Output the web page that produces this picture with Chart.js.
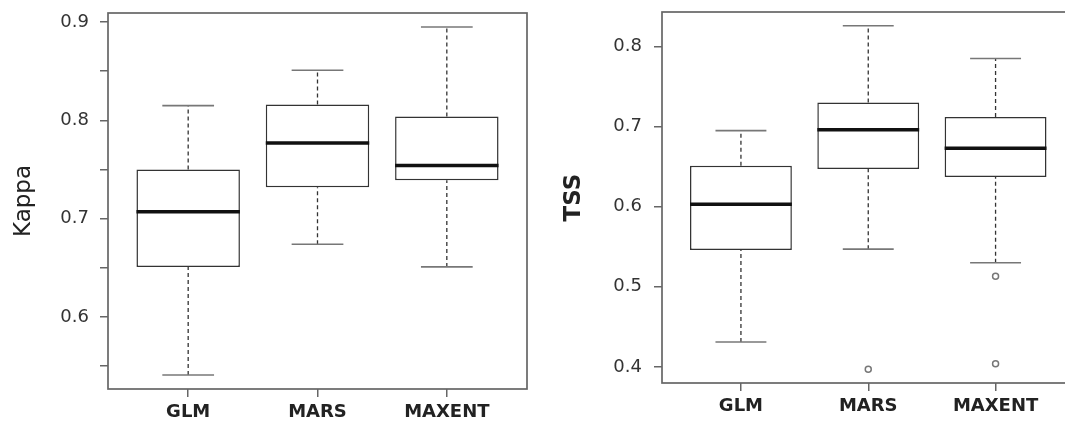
<!DOCTYPE html>
<html lang="en">
<head>
<meta charset="UTF-8">
<title>Kappa and TSS by model</title>
<script src="https://cdn.jsdelivr.net/npm/chart.js"></script>
<style>
    html, body { margin: 0; padding: 0; background: #fff; overflow: hidden; }
    #wrap { position: relative; width: 1065px; height: 426px; overflow: hidden; }
    #kappaChart { position: absolute; left: 0; top: 0; }
    #tssChart { position: absolute; left: 530px; top: 0; }
</style>
</head>
<body>
<div id="wrap">
    <canvas id="kappaChart" width="530" height="426"></canvas>
    <canvas id="tssChart" width="550" height="426"></canvas>
</div>

<script>
const models = ['GLM', 'MARS', 'MAXENT'];

// Kappa box statistics
const kappaLow  = [0.541, 0.674, 0.651];
const kappaQ1   = [0.651, 0.732, 0.739];
const kappaMed  = [0.707, 0.777, 0.754];
const kappaQ3   = [0.750, 0.816, 0.804];
const kappaHigh = [0.815, 0.851, 0.895];
const kappaOut  = [[], [], []];
const kappaTicks = ['0.6', '0.7', '0.8', '0.9'];

// TSS box statistics
const tssLow  = [0.431, 0.547, 0.530];
const tssQ1   = [0.546, 0.647, 0.637];
const tssMed  = [0.603, 0.696, 0.673];
const tssQ3   = [0.651, 0.730, 0.712];
const tssHigh = [0.695, 0.826, 0.785];
const tssOut  = [[], [0.397], [0.513, 0.404]];
const tssTicks = ['0.4', '0.5', '0.6', '0.7', '0.8'];

// R-style axis range: data range padded by 4%
function paddedRange(lo, hi, out) {
    const all = lo.concat(hi, out.flat());
    const mn = Math.min(...all), mx = Math.max(...all);
    const pad = (mx - mn) * 0.04;
    return [mn - pad, mx + pad];
}

function makeBoxChart(id, s) {
    const [ymin, ymax] = paddedRange(s.low, s.high, s.out);

    const boxExtras = {
        id: 'boxExtras',
        beforeDatasetsDraw(chart) {
            const {ctx, scales: {x, y}} = chart;
            ctx.save();
            // dashed whiskers
            ctx.strokeStyle = '#333';
            ctx.lineWidth = 1.3;
            ctx.setLineDash([4, 3]);
            s.med.forEach((m, i) => {
                const xc = x.getPixelForValue(i + 1);
                ctx.beginPath();
                ctx.moveTo(xc, y.getPixelForValue(s.low[i]));
                ctx.lineTo(xc, y.getPixelForValue(s.q1[i]));
                ctx.moveTo(xc, y.getPixelForValue(s.q3[i]));
                ctx.lineTo(xc, y.getPixelForValue(s.high[i]));
                ctx.stroke();
            });
            ctx.setLineDash([]);
            // whisker caps (half the box width)
            ctx.strokeStyle = '#777';
            ctx.lineWidth = 1.6;
            s.med.forEach((m, i) => {
                const x0 = x.getPixelForValue(i + 1 - 0.2);
                const x1 = x.getPixelForValue(i + 1 + 0.2);
                [s.low[i], s.high[i]].forEach(v => {
                    const yy = y.getPixelForValue(v);
                    ctx.beginPath();
                    ctx.moveTo(x0, yy);
                    ctx.lineTo(x1, yy);
                    ctx.stroke();
                });
            });
            ctx.restore();
        },
        afterDatasetsDraw(chart) {
            const {ctx, chartArea, scales: {y}} = chart;
            const bars = chart.getDatasetMeta(0).data;
            ctx.save();
            // medians
            ctx.strokeStyle = '#111';
            ctx.lineWidth = 3.5;
            bars.forEach((bar, i) => {
                const yy = y.getPixelForValue(s.med[i]);
                ctx.beginPath();
                ctx.moveTo(bar.x - bar.width / 2, yy);
                ctx.lineTo(bar.x + bar.width / 2, yy);
                ctx.stroke();
            });
            // plot frame
            ctx.strokeStyle = '#666';
            ctx.lineWidth = 1.7;
            ctx.strokeRect(chartArea.left, chartArea.top,
                chartArea.right - chartArea.left, chartArea.bottom - chartArea.top);
            ctx.restore();
        }
    };

    const outliers = [];
    s.out.forEach((list, i) => list.forEach(v => outliers.push({x: i + 1, y: v})));

    new Chart(document.getElementById(id), {
        type: 'bar',
        data: {
            datasets: [{
                type: 'bar',
                data: models.map((m, i) => ({x: i + 1, y: [s.q1[i], s.q3[i]]})),
                backgroundColor: '#fff',
                borderColor: '#333',
                borderWidth: 1.5,
                borderSkipped: false,
                barPercentage: 0.8,
                categoryPercentage: 1.0
            }, {
                type: 'scatter',
                data: outliers,
                pointRadius: 3,
                pointBorderWidth: 1.5,
                pointBorderColor: '#777',
                pointBackgroundColor: 'rgba(0,0,0,0)'
            }]
        },
        options: {
            responsive: false,
            animation: false,
            events: [],
            layout: { padding: { top: s.padTop, right: s.padRight, left: 0, bottom: 0 } },
            plugins: { legend: { display: false }, tooltip: { enabled: false } },
            scales: {
                x: {
                    type: 'linear',
                    min: 0.5 - 0.12,
                    max: models.length + 0.5 + 0.12,
                    offset: false,
                    afterBuildTicks: sc => { sc.ticks = models.map((m, i) => ({value: i + 1})); },
                    afterFit: sc => { sc.height = s.xHeight; },
                    border: { display: false },
                    grid: { drawOnChartArea: false, offset: false, tickLength: 8, color: '#666', lineWidth: 1.5 },
                    ticks: {
                        autoSkip: false,
                        maxRotation: 0,
                        padding: 5,
                        color: '#222',
                        font: { family: 'DejaVu Sans', size: 18, weight: 'bold' },
                        callback: v => models[Math.round(v) - 1]
                    }
                },
                y: {
                    min: ymin,
                    max: ymax,
                    afterFit: sc => {
                        sc.width = s.yWidth;
                        // labels sit inside the padded range, no extra room needed
                        sc.paddingTop = 0;
                        sc.paddingBottom = 0;
                    },
                    border: { display: false },
                    grid: { drawOnChartArea: false, tickLength: 8, color: '#666', lineWidth: 1.5 },
                    ticks: {
                        stepSize: s.step,
                        includeBounds: false,
                        padding: s.tickPad,
                        color: '#333',
                        font: { family: 'DejaVu Sans', size: 18 },
                        callback: v => {
                            const t = v.toFixed(1);
                            return s.tickLabels.includes(t) && Math.abs(v - Number(t)) < 1e-9 ? t : '';
                        }
                    },
                    title: {
                        display: true,
                        text: s.title,
                        color: '#222',
                        padding: { top: s.titlePad, bottom: 0 },
                        font: { family: 'DejaVu Sans', size: 23, weight: s.titleWeight }
                    }
                }
            }
        },
        plugins: [boxExtras]
    });
}

makeBoxChart('kappaChart', {
    low: kappaLow, q1: kappaQ1, med: kappaMed, q3: kappaQ3, high: kappaHigh, out: kappaOut,
    tickLabels: kappaTicks, step: 0.05, title: 'Kappa', titleWeight: 'normal', titlePad: 10,
    yWidth: 108, xHeight: 37, padTop: 13, padRight: 3, tickPad: 11
});

makeBoxChart('tssChart', {
    low: tssLow, q1: tssQ1, med: tssMed, q3: tssQ3, high: tssHigh, out: tssOut,
    tickLabels: tssTicks, step: 0.1, title: 'TSS', titleWeight: 'bold', titlePad: 30,
    yWidth: 132, xHeight: 43, padTop: 12, padRight: 4, tickPad: 12
});
</script>
</body>
</html>
